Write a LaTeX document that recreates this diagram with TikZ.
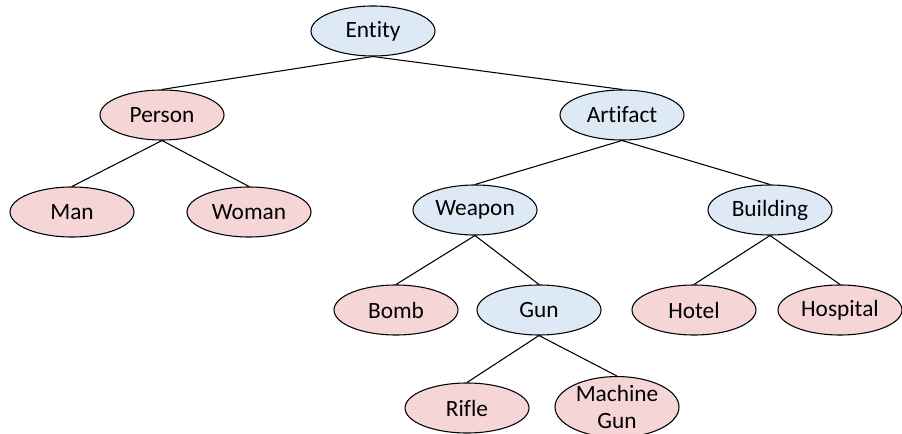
\documentclass[tikz,border=0pt]{standalone}
\usepackage{fontspec}
\setmainfont[Ligatures=NoCommon,RawFeature=-liga]{Carlito}
\usetikzlibrary{shapes.geometric}

\definecolor{classBlue}{RGB}{221,234,246}
\definecolor{instPink}{RGB}{245,213,213}

\begin{document}
\begin{tikzpicture}[x=0.75pt,y=-0.75pt,
        ent/.style={ellipse,draw=black,minimum width=93pt,minimum height=37.5pt,
            inner sep=0pt,align=center,font=\fontsize{17.5}{20}\selectfont},
        cls/.style={ent,fill=classBlue},
        inst/.style={ent,fill=instPink}]
    \useasboundingbox (0,0) rectangle (902,434);

    \begin{scope}[line width=0.8pt]
        \node [cls]  (entity)   at (373,31)  {Entity};
        \node [inst] (person)   at (162,115) {Person};
        \node [cls]  (artifact) at (622,115) {Artifact};
        \node [inst] (man)      at (72,212)  {Man};
        \node [inst] (woman)    at (249,212) {Woman};
        \node [cls]  (weapon)   at (475,210) {Weapon};
        \node [cls]  (building) at (770,210) {Building};
        \node [inst] (bomb)     at (396,310) {Bomb};
        \node [cls]  (gun)      at (539,310) {Gun};
        \node [inst] (hotel)    at (694,310) {Hotel};
        \node [inst] (hospital) at (840,310) {Hospital};
        \node [inst] (rifle)    at (467,408) {Rifle};
        \node [inst] (mgun)     at (617,407) {Machine\\Gun};

        \foreach \p/\c in {entity/person,entity/artifact,person/man,person/woman,
                artifact/weapon,artifact/building,weapon/bomb,weapon/gun,
                building/hotel,building/hospital,gun/rifle,gun/mgun}{%
                \draw (\p.south) -- (\c.north);
            }
    \end{scope}
\end{tikzpicture}
\end{document}
